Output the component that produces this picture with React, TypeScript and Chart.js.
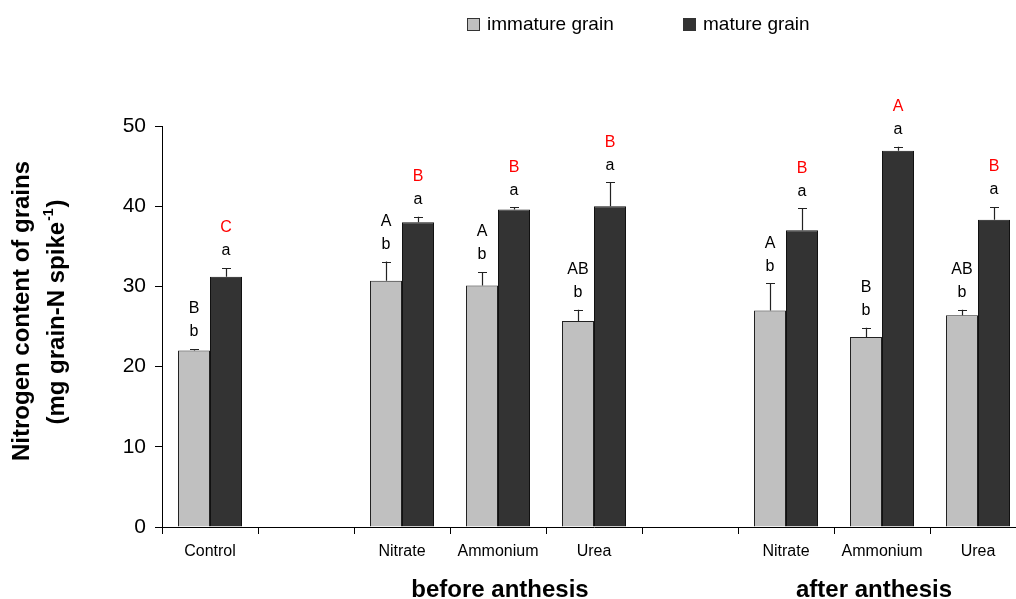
import React, { useEffect, useRef } from 'react';
import { Chart, registerables } from 'chart.js';

Chart.register(...registerables);

const FONT = "'Liberation Sans', Arial, Helvetica, sans-serif";

const categories = ['Control', '', 'Nitrate', 'Ammonium', 'Urea', '', 'Nitrate', 'Ammonium', 'Urea'];
const immature = [22.0, null, 30.7, 30.1, 25.7, null, 27.0, 23.7, 26.4];
const immatureErr = [0.2, null, 2.4, 1.7, 1.4, null, 3.4, 1.15, 0.7];
const mature = [31.2, null, 38.0, 39.6, 40.0, null, 37.0, 46.9, 38.3];
const matureErr = [1.1, null, 0.7, 0.25, 3.0, null, 2.75, 0.5, 1.6];
const immatureLower = ['b', '', 'b', 'b', 'b', '', 'b', 'b', 'b'];
const immatureUpper = ['B', '', 'A', 'A', 'AB', '', 'A', 'B', 'AB'];
const matureLower = ['a', '', 'a', 'a', 'a', '', 'a', 'a', 'a'];
const matureUpper = ['C', '', 'B', 'B', 'B', '', 'B', 'A', 'B'];
const groupLabels = ['before anthesis', 'after anthesis'];
const groupFrom = [2, 6];
const groupTo = [4, 8];
const seriesNames = ['immature grain', 'mature grain'];
const yTitle1 = 'Nitrogen content of grains';
const yTitle2a = '(mg grain-N spike';
const yTitle2sup = '-1';
const yTitle2b = ')';

const errs = [immatureErr, matureErr];
const lowers = [immatureLower, matureLower];
const uppers = [immatureUpper, matureUpper];
const upperColors = ['#000000', '#ff0000'];
const fills = ['#c0c0c0', '#333333'];

const annotatePlugin = {
  id: 'annotate',
  afterDatasetsDraw(chart: any) {
    const ctx = chart.ctx as CanvasRenderingContext2D;
    const y = chart.scales.y;
    const x = chart.scales.x;
    ctx.save();
    // error bars and letters
    for (let d = 0; d < 2; d++) {
      const meta = chart.getDatasetMeta(d);
      const vals = chart.data.datasets[d].data as (number | null)[];
      meta.data.forEach((bar: any, i: number) => {
        const v = vals[i];
        const e = errs[d][i];
        if (v == null || e == null) return;
        const top = y.getPixelForValue(v);
        const cap = y.getPixelForValue(v + e);
        ctx.strokeStyle = '#222';
        ctx.lineWidth = 1.2;
        ctx.beginPath();
        ctx.moveTo(Math.round(bar.x) + 0.5, top);
        ctx.lineTo(Math.round(bar.x) + 0.5, cap);
        ctx.moveTo(Math.round(bar.x) - 4, Math.round(cap) + 0.5);
        ctx.lineTo(Math.round(bar.x) + 5, Math.round(cap) + 0.5);
        ctx.stroke();
        ctx.font = `16px ${FONT}`;
        ctx.textAlign = 'center';
        ctx.textBaseline = 'middle';
        ctx.fillStyle = '#000';
        ctx.fillText(lowers[d][i], bar.x, cap - 17);
        ctx.fillStyle = upperColors[d];
        ctx.fillText(uppers[d][i], bar.x, cap - 40);
      });
    }
    // group labels
    const nudges = [2, -8];
    ctx.font = `bold 24px ${FONT}`;
    ctx.fillStyle = '#000';
    ctx.textAlign = 'center';
    ctx.textBaseline = 'alphabetic';
    groupLabels.forEach((g, k) => {
      const cx = (x.getPixelForValue(groupFrom[k]) + x.getPixelForValue(groupTo[k])) / 2 + nudges[k];
      ctx.fillText(g, cx, 597);
    });
    // legend
    const lx = [467, 683];
    ctx.font = `19px ${FONT}`;
    ctx.textAlign = 'left';
    ctx.textBaseline = 'middle';
    seriesNames.forEach((n, k) => {
      ctx.fillStyle = fills[k];
      ctx.fillRect(lx[k], 18, 13, 13);
      ctx.strokeStyle = '#333';
      ctx.lineWidth = 1;
      ctx.strokeRect(lx[k] + 0.5, 18.5, 12, 12);
      ctx.fillStyle = '#000';
      ctx.fillText(n, lx[k] + 20, 25);
    });
    // y title
    ctx.translate(0, 0);
    ctx.save();
    ctx.translate(22, 311);
    ctx.rotate(-Math.PI / 2);
    ctx.font = `bold 24px ${FONT}`;
    ctx.textAlign = 'center';
    ctx.textBaseline = 'middle';
    ctx.fillText(yTitle1, 0, 0);
    ctx.restore();
    ctx.save();
    ctx.translate(57, 312);
    ctx.rotate(-Math.PI / 2);
    ctx.textBaseline = 'middle';
    ctx.textAlign = 'left';
    const big = `bold 24px ${FONT}`;
    const small = `bold 14px ${FONT}`;
    ctx.font = big;
    const wa = ctx.measureText(yTitle2a).width;
    const wb = ctx.measureText(yTitle2b).width;
    ctx.font = small;
    const ws = ctx.measureText(yTitle2sup).width;
    const total = wa + ws + 2 + wb;
    let px = -total / 2;
    ctx.font = big;
    ctx.fillText(yTitle2a, px, 0);
    px += wa;
    ctx.font = small;
    ctx.fillText(yTitle2sup, px + 1, -8);
    px += ws + 2;
    ctx.font = big;
    ctx.fillText(yTitle2b, px, 0);
    ctx.restore();
    ctx.restore();
  },
};

export default function App() {
  const ref = useRef<HTMLCanvasElement | null>(null);
  useEffect(() => {
    if (!ref.current) return;
    Chart.defaults.font.family = FONT;
    const chart = new Chart(ref.current, {
      type: 'bar',
      data: {
        labels: categories,
        datasets: [
          {
            label: seriesNames[0],
            data: immature,
            backgroundColor: fills[0],
            borderColor: '#222',
            borderWidth: 1,
            categoryPercentage: 2 / 3,
            barPercentage: 1,
          },
          {
            label: seriesNames[1],
            data: mature,
            backgroundColor: fills[1],
            borderColor: '#111',
            borderWidth: 1,
            categoryPercentage: 2 / 3,
            barPercentage: 1,
          },
        ],
      },
      options: {
        responsive: false,
        animation: false,
        devicePixelRatio: 1,
        layout: { padding: { top: 126, right: 14, left: 0, bottom: 0 } },
        plugins: {
          legend: { display: false },
          tooltip: { enabled: false },
        },
        scales: {
          x: {
            type: 'category',
            grid: { offset: true, drawOnChartArea: false, drawTicks: true, tickLength: 7, color: '#000' },
            border: { display: true, color: '#000', width: 1 },
            ticks: { color: '#000', font: { size: 16 }, padding: 8, maxRotation: 0, autoSkip: false },
            afterFit: (s: any) => {
              s.height = 72;
            },
          },
          y: {
            min: 0,
            max: 50,
            afterBuildTicks: (s: any) => {
              s.ticks = [0, 10, 20, 30, 40, 50].map((v) => ({ value: v }));
            },
            grid: { drawOnChartArea: false, drawTicks: true, tickLength: 7, color: '#000' },
            border: { display: true, color: '#000', width: 1 },
            ticks: { color: '#000', font: { size: 21 }, padding: 9 },
            afterFit: (s: any) => {
              s.width = 162;
            },
          },
        },
      },
      plugins: [annotatePlugin],
    });
    return () => chart.destroy();
  }, []);
  return (
    <div style={{ position: 'fixed', left: 0, top: 0, width: 1016, height: 599, overflow: 'hidden', background: '#fff' }}>
      <canvas ref={ref} width={1040} height={599} style={{ width: 1040, height: 599, display: 'block' }} />
    </div>
  );
}
